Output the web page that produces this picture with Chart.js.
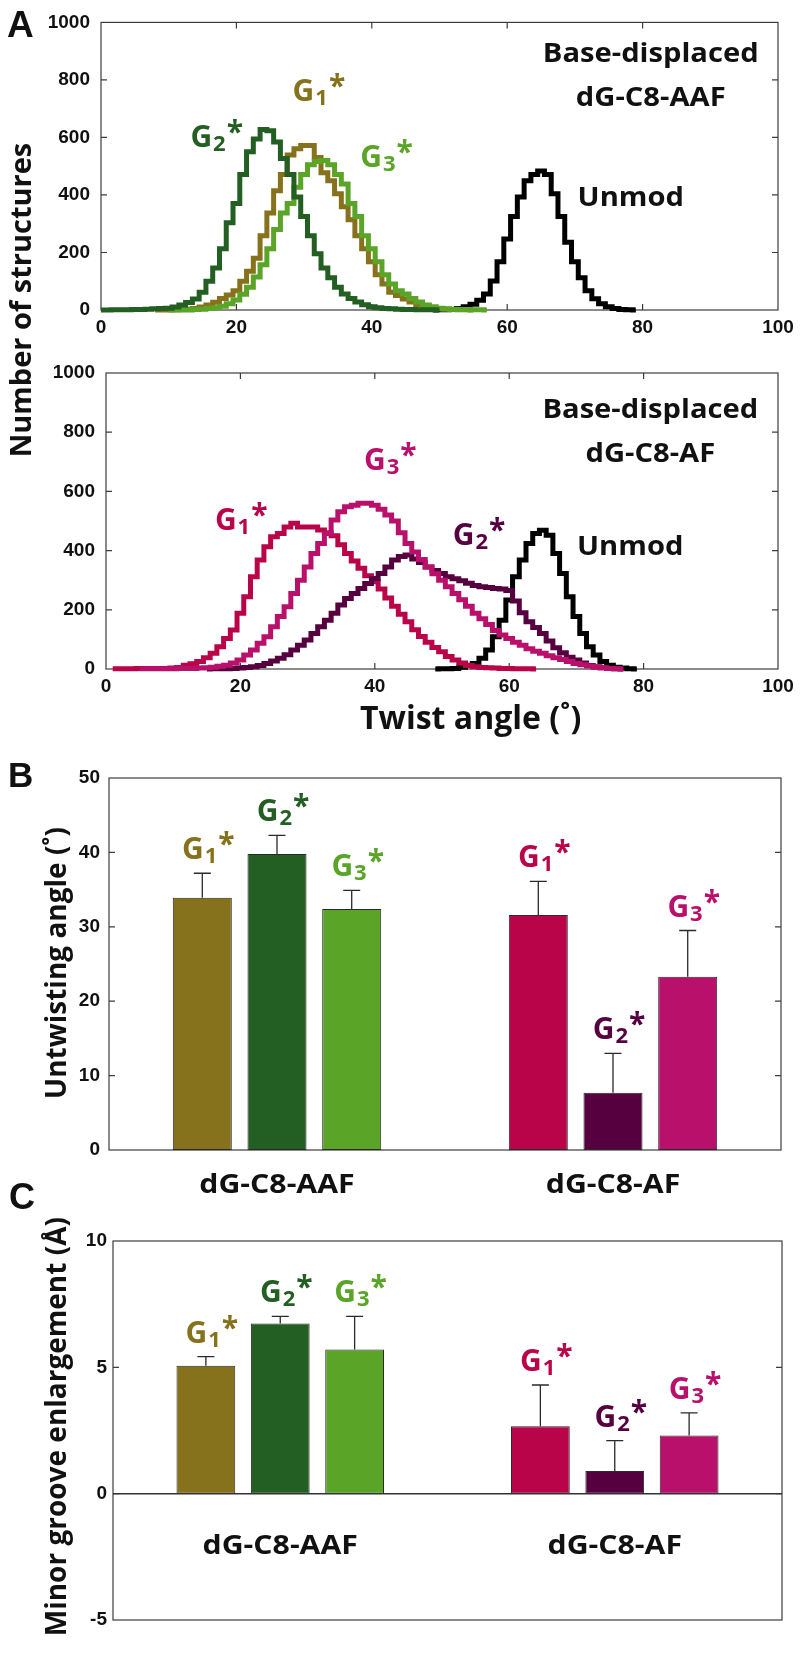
<!DOCTYPE html>
<html lang="en">
<head>
<meta charset="utf-8">
<title>Twist angle, untwisting and minor groove enlargement</title>
<script src="https://cdn.jsdelivr.net/npm/chart.js@4.4.1/dist/chart.umd.min.js"></script>
<style>
  html, body { margin: 0; padding: 0; background: #fff; }
  #figure { position: relative; width: 800px; height: 1667px; overflow: hidden; background: #fff; }
  #figure canvas { position: absolute; left: 0; }
</style>
</head>
<body>
<div id="figure">
  <canvas id="twistAAF" width="800" height="750" style="top:0px"></canvas>
  <canvas id="twistAF" width="800" height="405" style="top:345px"></canvas>
  <canvas id="untwist" width="800" height="460" style="top:750px"></canvas>
  <canvas id="groove" width="800" height="507" style="top:1160px"></canvas>
</div>
<script>
// ---- Panel A: twist-angle histograms (counts per 1° bin) ----
const twistRange = [0, 100];
const twistStep = 20;
const countRange = [0, 1000];
const countStep = 200;

// dG-C8-AAF
const aafG1From = 8;
const aafG1Counts = [0, 0,
  0, 1, 2, 3, 5, 10, 17, 27, 40, 52,
  67, 100, 135, 180, 258, 337, 415, 471, 539, 561,
  572, 572, 530, 477, 449, 404, 359, 314, 258, 213,
  168, 123, 90, 62, 50, 38, 28, 18, 11, 8,
  5, 3, 2, 1, 1, 0];
const aafG2From = 0;
const aafG2Counts = [0, 0, 1, 1, 1, 2, 2, 3, 4, 5,
  6, 10, 17, 26, 38, 62, 100, 146, 213, 303,
  370, 471, 550, 595, 628, 623, 584, 527, 471, 393,
  325, 258, 196, 146, 112, 79, 56, 40, 28, 18,
  11, 8, 5, 4, 3, 2, 2, 1, 1, 1,
  0];
const aafG3From = 10;
const aafG3Counts = [0, 0, 0, 0, 2, 3, 5, 8, 13, 22,
  35, 55, 79, 115, 157, 213, 280, 337, 370, 427,
  471, 505, 516, 520, 505, 471, 438, 370, 325, 258,
  213, 168, 123, 90, 67, 56, 40, 28, 17, 11,
  6, 4, 3, 2, 2, 1, 1, 0];
const aafUnmodFrom = 49;
const aafUnmodCounts = [0,
  1, 1, 2, 5, 11, 20, 34, 56, 101, 168,
  247, 325, 393, 449, 471, 483, 471, 404, 325, 236,
  168, 112, 67, 39, 22, 11, 5, 2, 1, 0];

// dG-C8-AF
const afG1From = 1;
const afG1Counts = [1, 1, 1, 1, 2, 2, 2, 2, 2,
  3, 5, 13, 18, 25, 38, 53, 75, 103, 132,
  188, 244, 312, 368, 413, 447, 458, 480, 492, 480,
  480, 480, 470, 460, 450, 420, 390, 365, 340, 315,
  295, 270, 240, 212, 185, 160, 133, 110, 90, 73,
  58, 42, 30, 20, 12, 8, 5, 4, 3, 2,
  2, 1, 1, 1, 0];
const afG2From = 15;
const afG2Counts = [0, 1, 1, 1, 2,
  3, 5, 8, 12, 19, 27, 36, 48, 64, 80,
  98, 120, 143, 165, 188, 216, 238, 255, 272, 289,
  306, 323, 345, 368, 380, 385, 372, 360, 345, 333,
  323, 312, 305, 298, 290, 282, 278, 275, 272, 270,
  265, 230, 190, 160, 140, 120, 95, 72, 55, 40,
  30, 20, 12, 8, 4, 2, 1, 0];
const afG3From = 5;
const afG3Counts = [1, 1, 1, 1, 1,
  1, 2, 2, 2, 3, 4, 6, 9, 13, 20,
  30, 47, 64, 87, 109, 143, 177, 210, 255, 300,
  345, 390, 424, 458, 503, 531, 548, 553, 560, 560,
  553, 540, 520, 500, 460, 424, 395, 370, 345, 322,
  300, 278, 255, 234, 212, 188, 170, 150, 130, 115,
  103, 90, 80, 68, 60, 53, 45, 38, 32, 25,
  19, 14, 10, 6, 4, 2, 1, 0];
const afUnmodFrom = 49;
const afUnmodCounts = [0,
  1, 1, 2, 6, 13, 19, 36, 64, 109, 165,
  233, 312, 368, 424, 458, 469, 452, 390, 323, 244,
  177, 120, 75, 47, 25, 13, 6, 3, 1, 0];

// ---- Panels B and C: mean values with error bars ----
const groupLabels = ['dG-C8-AAF', 'dG-C8-AF'];
const variantSubs = ['1', '2', '3'];

const untwistRange = [0, 50];
const untwistStep = 10;
const untwistAAF = [33.9, 39.8, 32.4];
const untwistAAFErr = [3.3, 2.5, 2.5];
const untwistAF = [31.6, 7.7, 23.3];
const untwistAFErr = [4.5, 5.3, 6.2];

const grooveRange = [-5, 10];
const grooveStep = 5;
const grooveAAF = [5.06, 6.73, 5.71];
const grooveAAFErr = [0.36, 0.29, 1.31];
const grooveAF = [2.67, 0.90, 2.30];
const grooveAFErr = [1.63, 1.20, 0.90];

// colours
const aafColors = ['#86721d', '#235e22', '#5aa427'];
const afColors = ['#ba0449', '#560040', '#b9106b'];
const unmodColor = '#000000';

const SANS = '"Open Sans", "Noto Sans", sans-serif';
const AXIS = '"Liberation Sans", Arial, sans-serif';
const tickFont = { family: AXIS, size: 19, weight: 'bold' };

function font(size, family) {
    return 'bold ' + size + 'px ' + (family || SANS);
}

// plain text, optionally rotated and widened a bit
function drawText(ctx, text, x, y, o) {
    ctx.save();
    ctx.fillStyle = o.color || '#111';
    ctx.font = font(o.size || 27, o.family);
    ctx.textBaseline = 'alphabetic';
    ctx.textAlign = o.align || 'left';
    ctx.translate(x, y);
    if (o.rotate) ctx.rotate(-Math.PI / 2);
    ctx.scale(o.sx || 1, 1);
    ctx.fillText(text, 0, 0);
    ctx.restore();
}

// "G" + subscript + asterisk
function drawG(ctx, sub, x, y, color, align) {
    ctx.save();
    ctx.fillStyle = color;
    ctx.textBaseline = 'alphabetic';
    ctx.textAlign = 'left';
    ctx.font = font(30);
    const wG = ctx.measureText('G').width;
    const wStar = ctx.measureText('*').width;
    ctx.font = font(22);
    const wSub = ctx.measureText(sub).width;
    const total = wG + wSub + wStar + 2;
    const x0 = align === 'center' ? x - total / 2 : x - 2;
    ctx.font = font(30);
    ctx.fillText('G', x0, y);
    ctx.fillText('*', x0 + wG + wSub + 2, y - 5);
    ctx.font = font(22);
    ctx.fillText(sub, x0 + wG + 1, y + 4);
    ctx.restore();
}

// Matlab-like frame with inward ticks
function boxPlugin(withXTicks) {
    return {
        id: 'matlabBox',
        beforeDatasetsDraw(chart) {
            const { ctx, chartArea: a, scales: { x, y } } = chart;
            ctx.save();
            ctx.strokeStyle = '#3c3c3c';
            ctx.lineWidth = 1.2;
            ctx.strokeRect(a.left, a.top, a.right - a.left, a.bottom - a.top);
            ctx.beginPath();
            y.ticks.forEach(t => {
                const py = y.getPixelForValue(t.value);
                if (py <= a.top + 1 || py >= a.bottom - 1) return;
                ctx.moveTo(a.left, py); ctx.lineTo(a.left + 6, py);
                ctx.moveTo(a.right, py); ctx.lineTo(a.right - 6, py);
            });
            if (withXTicks) {
                x.ticks.forEach(t => {
                    const px = x.getPixelForValue(t.value);
                    if (px <= a.left + 1 || px >= a.right - 1) return;
                    ctx.moveTo(px, a.bottom); ctx.lineTo(px, a.bottom - 6);
                    ctx.moveTo(px, a.top); ctx.lineTo(px, a.top + 6);
                });
            }
            ctx.stroke();
            ctx.restore();
        }
    };
}

// free texts, placed in data units (atX/atY) or canvas pixels (px/py)
function textPlugin(items) {
    return {
        id: 'figureText',
        afterDraw(chart) {
            const { ctx, scales: { x, y } } = chart;
            items.forEach(it => {
                const px = it.atX !== undefined ? x.getPixelForValue(it.atX) : it.px;
                const py = it.atY !== undefined ? y.getPixelForValue(it.atY) : it.py;
                if (it.sub) drawG(ctx, it.sub, px, py, it.color, it.align);
                else drawText(ctx, it.text, px, py, it);
            });
        }
    };
}

// error bars, G labels, group names, zero line
function barExtrasPlugin(cfg) {
    return {
        id: 'barExtras',
        afterDatasetsDraw(chart) {
            const { ctx, chartArea: a, scales: { x, y } } = chart;
            ctx.save();
            if (cfg.zeroLine) {
                const y0 = y.getPixelForValue(0);
                ctx.strokeStyle = '#333';
                ctx.lineWidth = 1.5;
                ctx.beginPath();
                ctx.moveTo(a.left, y0); ctx.lineTo(a.right, y0);
                ctx.stroke();
            }
            chart.data.datasets.forEach((ds, i) => {
                const meta = chart.getDatasetMeta(i);
                meta.data.forEach((bar, j) => {
                    const top = y.getPixelForValue(ds.data[j] + ds.errors[j]);
                    ctx.strokeStyle = '#2a2a2a';
                    ctx.lineWidth = 1.3;
                    ctx.beginPath();
                    ctx.moveTo(bar.x, bar.y); ctx.lineTo(bar.x, top);
                    ctx.moveTo(bar.x - 8.5, top); ctx.lineTo(bar.x + 8.5, top);
                    ctx.stroke();
                    drawG(ctx, variantSubs[i], bar.x + 6, top - 14, ds.backgroundColor[j], 'center');
                });
            });
            groupLabels.forEach((lab, k) => {
                drawText(ctx, lab, x.getPixelForValue(k), cfg.labelY(y, a), { align: 'center', size: 27, sx: 1.12 });
            });
            ctx.restore();
        }
    };
}

function histDataset(from, counts, color) {
    return {
        data: counts.map((c, i) => ({ x: from + i, y: c })),
        borderColor: color,
        borderWidth: 5,
        pointRadius: 0,
        stepped: 'middle',
        fill: false,
        clip: 5
    };
}

function yAxis(range, step, width, padding) {
    return {
        min: range[0], max: range[1],
        ticks: { stepSize: step, padding: padding, color: '#111', font: tickFont, callback: v => String(v) },
        grid: { display: false, drawTicks: false },
        border: { display: false },
        afterFit: s => { s.width = width; }
    };
}

function histChart(id, datasets, area, canvasH, padBottom, texts) {
    return new Chart(document.getElementById(id), {
        type: 'line',
        data: { datasets: datasets },
        options: {
            responsive: false,
            animation: false,
            events: [],
            layout: { padding: { left: 0, top: area.top, right: 800 - area.right, bottom: padBottom } },
            plugins: { legend: { display: false }, tooltip: { enabled: false } },
            scales: {
                x: {
                    type: 'linear', min: twistRange[0], max: twistRange[1],
                    ticks: { stepSize: twistStep, padding: 6, color: '#111', font: tickFont, callback: v => String(v) },
                    grid: { display: false, drawTicks: false },
                    border: { display: false },
                    afterFit: s => { s.height = canvasH - padBottom - area.bottom; }
                },
                y: yAxis(countRange, countStep, area.left, 11)
            }
        },
        plugins: [boxPlugin(true), textPlugin(texts)]
    });
}

function barChart(id, aafVals, aafErrs, afVals, afErrs, range, step, area, canvasH, tickPad, extras, texts) {
    const datasets = variantSubs.map((sub, v) => ({
        label: 'G' + sub + '*',
        data: [aafVals[v], afVals[v]],
        errors: [aafErrs[v], afErrs[v]],
        backgroundColor: [aafColors[v], afColors[v]],
        borderColor: '#2a2a2a',
        borderWidth: 1,
        borderSkipped: false,
        categoryPercentage: 0.667,
        barPercentage: 0.79
    }));
    return new Chart(document.getElementById(id), {
        type: 'bar',
        data: { labels: groupLabels, datasets: datasets },
        options: {
            responsive: false,
            animation: false,
            events: [],
            layout: { padding: { left: 0, top: area.top, right: 800 - area.right, bottom: 0 } },
            plugins: { legend: { display: false }, tooltip: { enabled: false } },
            scales: {
                x: {
                    ticks: { display: false },
                    grid: { display: false, drawTicks: false },
                    border: { display: false },
                    afterFit: s => { s.height = canvasH - area.bottom; }
                },
                y: yAxis(range, step, area.left, tickPad)
            }
        },
        plugins: [boxPlugin(false), barExtrasPlugin(extras), textPlugin(texts)]
    });
}

// A, top: dG-C8-AAF
histChart('twistAAF', [
    histDataset(aafG2From, aafG2Counts, aafColors[1]),
    histDataset(aafG3From, aafG3Counts, aafColors[2]),
    histDataset(aafG1From, aafG1Counts, aafColors[0]),
    histDataset(aafUnmodFrom, aafUnmodCounts, unmodColor)
], { left: 101, right: 778, top: 14, bottom: 310 }, 750, 405, [
    { text: 'A', px: 7, py: 37, size: 37, family: AXIS },
    { text: 'Number of structures', px: 31, py: 300, size: 29, rotate: true, align: 'center' },
    { text: 'Base-displaced', atX: 81.2, atY: 861, align: 'center', size: 27, sx: 1.08 },
    { text: 'dG-C8-AAF', atX: 81.2, atY: 709, align: 'center', size: 27, sx: 1.08 },
    { text: 'Unmod', atX: 70.4, atY: 361, size: 27, sx: 1.08 },
    { sub: '2', atX: 13.5, atY: 567, color: aafColors[1] },
    { sub: '1', atX: 28.6, atY: 726, color: aafColors[0] },
    { sub: '3', atX: 38.6, atY: 497, color: aafColors[2] }
]);

// A, bottom: dG-C8-AF
histChart('twistAF', [
    histDataset(afG3From, afG3Counts, afColors[2]),
    histDataset(afG2From, afG2Counts, afColors[1]),
    histDataset(afG1From, afG1Counts, afColors[0]),
    histDataset(afUnmodFrom, afUnmodCounts, unmodColor)
], { left: 106, right: 778, top: 28, bottom: 324 }, 405, 0, [
    { text: 'Base-displaced', atX: 81.0, atY: 847, align: 'center', size: 27, sx: 1.08 },
    { text: 'dG-C8-AF', atX: 81.0, atY: 699, align: 'center', size: 27, sx: 1.08 },
    { text: 'Unmod', atX: 70.1, atY: 385, size: 27, sx: 1.08 },
    { sub: '3', atX: 38.7, atY: 672, color: afColors[2] },
    { sub: '1', atX: 16.5, atY: 469, color: afColors[0] },
    { sub: '2', atX: 51.9, atY: 418, color: afColors[1] },
    { text: 'Twist angle (˚)', px: 360, py: 384, size: 32 }
]);

// B: untwisting angle
barChart('untwist', untwistAAF, untwistAAFErr, untwistAF, untwistAFErr, untwistRange, untwistStep,
    { left: 109, right: 781, top: 28, bottom: 400 }, 460, 9,
    { zeroLine: false, labelY: (y, a) => a.bottom + 43 }, [
    { text: 'B', px: 8, py: 37, size: 35, family: AXIS },
    { text: 'Untwisting angle (˚)', px: 66, py: 213, size: 28, rotate: true, align: 'center' }
]);

// C: minor groove enlargement
barChart('groove', grooveAAF, grooveAAFErr, grooveAF, grooveAFErr, grooveRange, grooveStep,
    { left: 113, right: 782, top: 81, bottom: 460 }, 507, 6,
    { zeroLine: true, labelY: (y, a) => y.getPixelForValue(-2.4) }, [
    { text: 'C', px: 9, py: 49, size: 36, family: AXIS },
    { text: 'Minor groove enlargement (Å)', px: 66, py: 57, size: 28, rotate: true, align: 'right' }
]);
</script>
</body>
</html>
